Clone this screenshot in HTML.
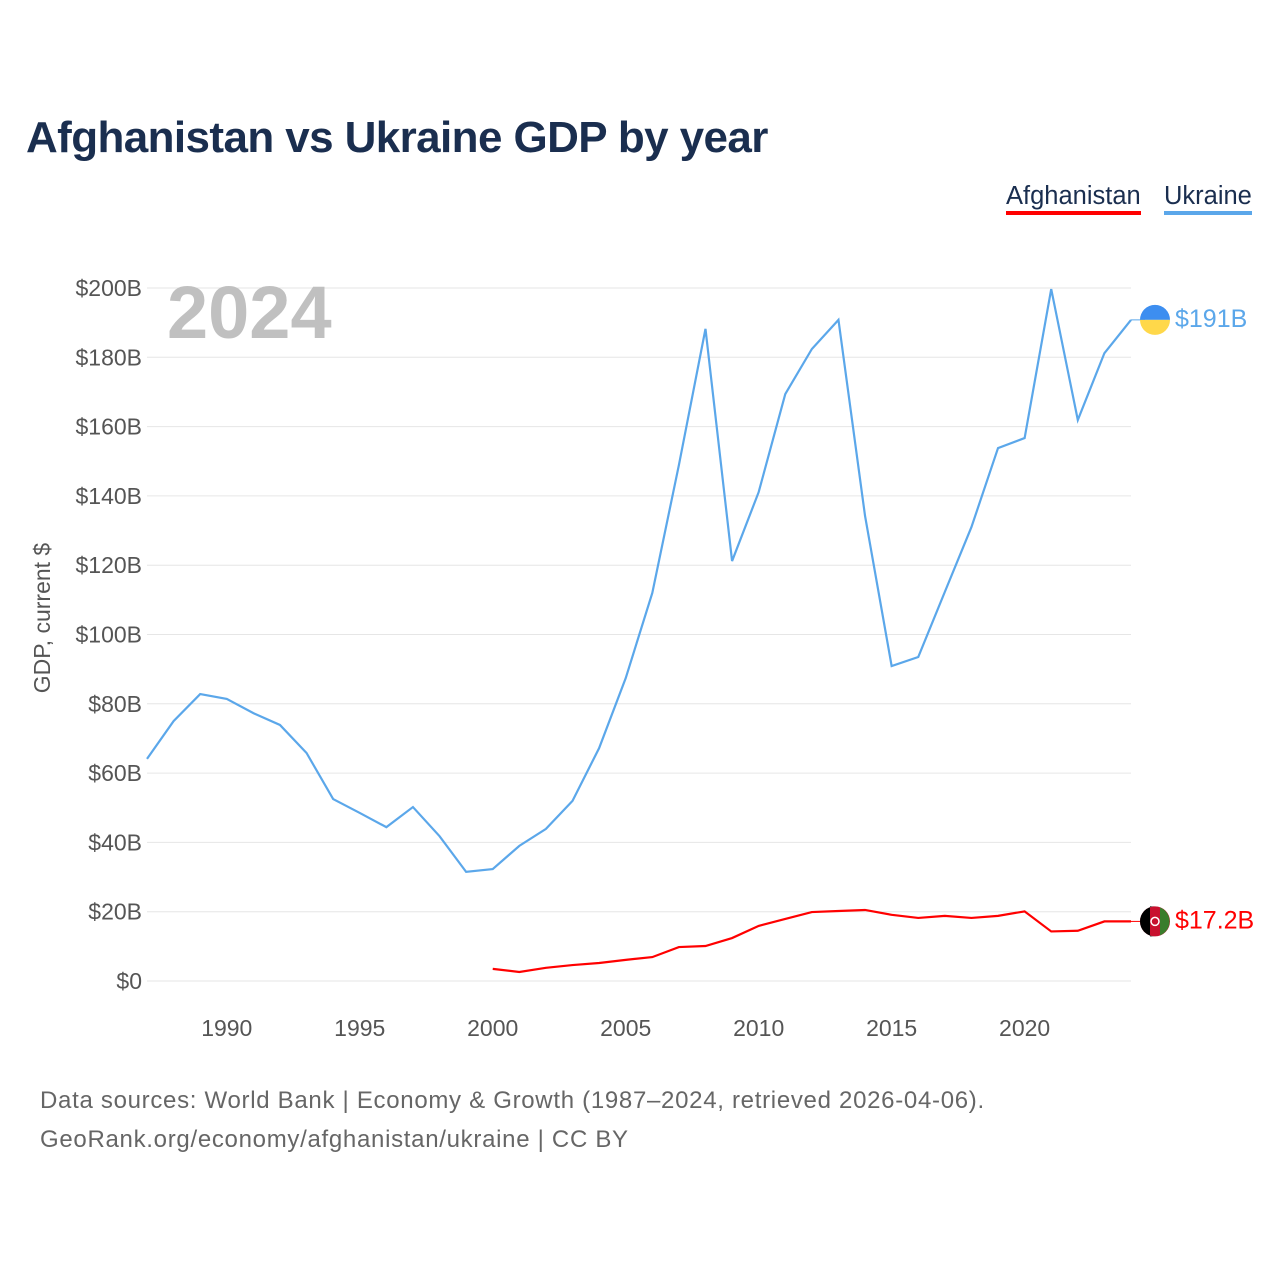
<!DOCTYPE html>
<html><head><meta charset="utf-8"><style>
body{margin:0;width:1280px;height:1280px;background:#fff;font-family:"Liberation Sans",sans-serif;position:relative;overflow:hidden}
.t{position:absolute;white-space:nowrap}
</style></head><body>
<div class="t" style="left:26px;top:113px;font-size:44px;font-weight:bold;color:#1a2e4f;letter-spacing:-0.6px">Afghanistan vs Ukraine GDP by year</div>
<div class="t" style="left:1006px;top:181px;font-size:25.5px;color:#1a2e4f;border-bottom:4px solid #ff0000;line-height:30px">Afghanistan</div>
<div class="t" style="left:1164px;top:181px;font-size:25.5px;color:#1a2e4f;border-bottom:4px solid #5ba7ea;line-height:30px">Ukraine</div>
<svg id="chart" width="1280" height="1280" style="position:absolute;left:0;top:0"></svg>
<div class="t" style="left:40px;top:1081px;font-size:24px;letter-spacing:0.7px;color:#666;line-height:39px">Data sources: World Bank | Economy &amp; Growth (1987–2024, retrieved 2026-04-06).<br>GeoRank.org/economy/afghanistan/ukraine | CC BY</div>
<script>
const years=[];for(let y=1987;y<=2024;y++)years.push(y);
const ukraine=[64.1,75,82.8,81.4,77.3,73.9,65.8,52.5,48.5,44.4,50.2,41.8,31.5,32.3,39,43.9,52,67.2,87.4,112,148.9,188.2,121.2,141.1,169.4,182.4,190.8,134.2,90.9,93.5,112.3,131,153.8,156.7,199.7,161.9,181.2,190.8];
const afgYears=[];for(let y=2000;y<=2024;y++)afgYears.push(y);
const afghanistan=[3.5,2.6,3.8,4.6,5.2,6.1,6.9,9.8,10.1,12.4,15.9,17.9,19.9,20.2,20.5,19.1,18.2,18.8,18.2,18.8,20.1,14.3,14.5,17.2,17.2];
const yTicks=[0,20,40,60,80,100,120,140,160,180,200];
const xTicks=[1990,1995,2000,2005,2010,2015,2020];
const X=y=>147+(y-1987)*(1131-147)/37;
const Y=v=>981-v*(981-288)/200;
const svg=document.getElementById('chart');const NS='http://www.w3.org/2000/svg';
function mk(t,a,txt){const e=document.createElementNS(NS,t);for(const k in a)e.setAttribute(k,a[k]);if(txt!=null)e.textContent=txt;svg.appendChild(e);return e;}
yTicks.forEach(v=>{
const l=mk('line',{x1:147,x2:1131,y1:Y(v),y2:Y(v),stroke:'#e6e6e6','stroke-width':1});


const t=mk('text',{x:142,y:Y(v)+8,'text-anchor':'end','font-size':23,fill:'#555','font-family':'Liberation Sans'},'$'+v+(v?'B':''));


});
xTicks.forEach(y=>{
const t=mk('text',{x:X(y),y:1036,'text-anchor':'middle','font-size':23,fill:'#555','font-family':'Liberation Sans'},y);


});
const yt=mk('text',{x:0,y:0,transform:'translate(50,618) rotate(-90)','text-anchor':'middle','font-size':23,fill:'#555','font-family':'Liberation Sans'},'GDP, current $');


const yr=mk('text',{x:167,y:338,'font-size':74,'font-weight':'bold',fill:'#c0c0c0','font-family':'Liberation Sans'},'2024');


const pu=mk('polyline',{points:years.map((y,i)=>X(y)+','+Y(ukraine[i])).join(' '),fill:'none',stroke:'#5ba7ea','stroke-width':2.2});


const pa=mk('polyline',{points:afgYears.map((y,i)=>X(y)+','+Y(afghanistan[i])).join(' '),fill:'none',stroke:'#ff0000','stroke-width':2.2});


const uy=Y(ukraine[ukraine.length-1]),ay=Y(afghanistan[afghanistan.length-1]);
mk('line',{x1:1131,x2:1145,y1:uy,y2:uy,stroke:'#5ba7ea'});
mk('line',{x1:1131,x2:1145,y1:ay,y2:ay,stroke:'#ff0000'});
const f1=mk('path',{d:`M1140 ${uy} a15 15 0 0 1 30 0 z`,fill:'#3d8ef0'});


mk('path',{d:`M1140 ${uy} a15 15 0 0 0 30 0 z`,fill:'#ffd84a'});
const g=mk('circle',{cx:1155,cy:ay,r:15,fill:'#c8102e'});


mk('path',{d:`M1155 ${ay-15} a15 15 0 0 0 0 30 h-5 v-30 z`,fill:'#000'});
mk('path',{d:`M1160 ${ay-14} a15 15 0 0 1 0 28 z`,fill:'#3a7d2c'});
mk('circle',{cx:1155,cy:ay,r:4,fill:'none',stroke:'#fff','stroke-width':1.5});
const lu=mk('text',{x:1175,y:uy+7,'font-size':25,fill:'#5ba7ea','font-family':'Liberation Sans'},'$191B');


const la=mk('text',{x:1175,y:ay+7,'font-size':25,fill:'#ff0000','font-family':'Liberation Sans'},'$17.2B');


</script>
</body></html>
